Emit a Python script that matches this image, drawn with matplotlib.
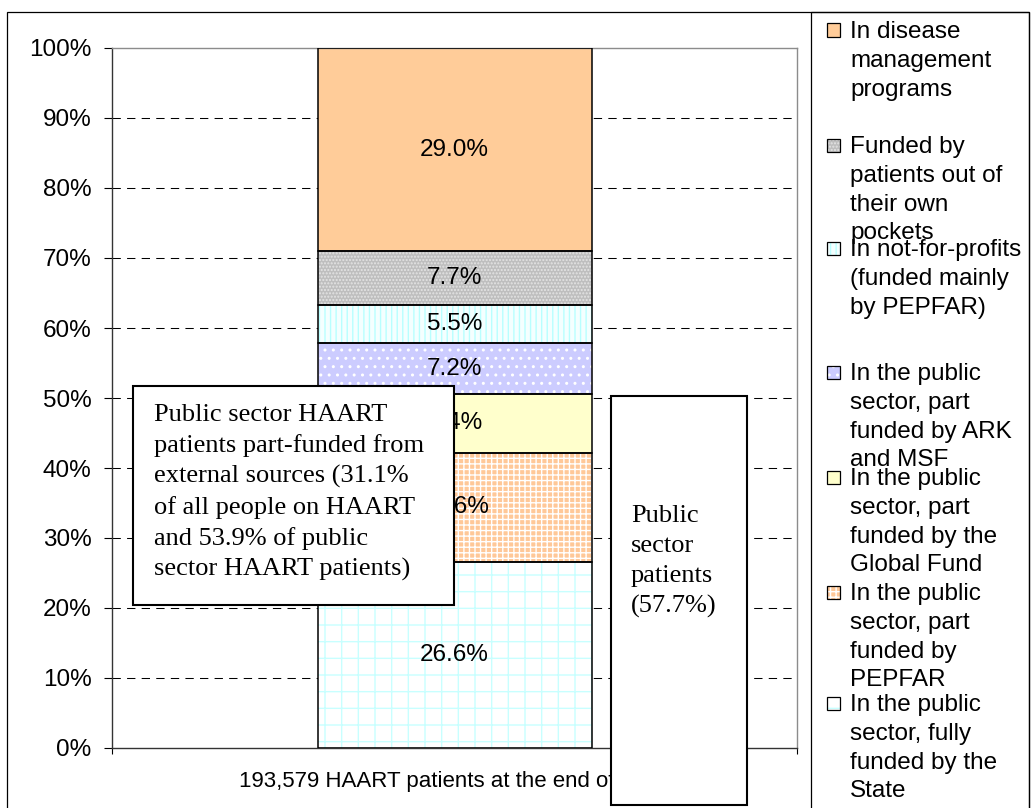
import matplotlib
matplotlib.use("Agg")
import matplotlib.pyplot as plt
from matplotlib.patches import Rectangle
from matplotlib.ticker import PercentFormatter

plt.rcParams['font.family'] = ['Liberation Sans', 'DejaVu Sans']
plt.rcParams['hatch.linewidth'] = 1.0

# ---------------- data ----------------
category = ["193,579 HAART patients at the end of 2006"]
series_names = [
    "In the public\nsector, fully\nfunded by the\nState",
    "In the public\nsector, part\nfunded by\nPEPFAR",
    "In the public\nsector, part\nfunded by the\nGlobal Fund",
    "In the public\nsector, part\nfunded by ARK\nand MSF",
    "In not-for-profits\n(funded mainly\nby PEPFAR)",
    "Funded by\npatients out of\ntheir own\npockets",
    "In disease\nmanagement\nprograms",
]
series_values = [26.6, 15.6, 8.4, 7.2, 5.5, 7.7, 29.0]
y_ticks = [0, 10, 20, 30, 40, 50, 60, 70, 80, 90, 100]
note_left = ("Public sector HAART\npatients part-funded from\nexternal sources (31.1%\n"
             "of all people on HAART\nand 53.9% of public\nsector HAART patients)")
note_right = "Public\nsector\npatients\n(57.7%)"

# ---------------- styles ----------------
face_colors = ['#FFFFFF', '#FFC898', '#FFFFCC', '#CCCCFF', '#F4FFFF', '#BEBEBE', '#FFCC99']
hatch_colors = ['#C8FFFF', '#FFFFFF', '#FFFFCC', '#FFFFFF', '#B8FFFF', '#E4E4E4', '#FFCC99']
hatches = ['+', '+++', None, '..', '|||', '.....', None]

W, H = 1032, 808
fig = plt.figure(figsize=(W / 100, H / 100), dpi=100)
fig.patch.set_facecolor('white')


def fx(px):
    return px / W


def fy(py):
    return 1 - py / H


ax = fig.add_axes([fx(112), fy(748), (797 - 112) / W, (748 - 48) / H])

FS = 17.5
bottom = 0.0
for v, fc, hc, hp in zip(series_values, face_colors, hatch_colors, hatches):
    ax.bar(0, v, width=0.4, bottom=bottom, color=fc, edgecolor=hc,
           linewidth=0, hatch=hp, zorder=2)
    ax.bar(0, v, width=0.4, bottom=bottom, fill=False, edgecolor='black',
           linewidth=1.1, zorder=3)
    ax.text(0, bottom + v / 2, f"{v:.1f}%", ha='center', va='center',
            fontsize=FS, color='black', zorder=4)
    bottom += v

ax.set_xlim(-0.5, 0.5)
ax.set_ylim(0, 100)
ax.set_yticks(y_ticks)
ax.yaxis.set_major_formatter(PercentFormatter(decimals=0))
ax.tick_params(axis='y', direction='out', length=5.8, width=0.8, pad=9,
               labelsize=FS, colors='black')
ax.set_xticks([0])
ax.set_xticklabels(category)
ax.tick_params(axis='x', which='major', length=0, pad=16.5, labelsize=16)
ax.set_xticks([-0.5, 0.5], minor=True)
ax.tick_params(axis='x', which='minor', length=4.5, width=0.8, direction='out')

ax.set_axisbelow(True)
ax.yaxis.grid(True, color='black', linestyle=(0, (8, 6)), linewidth=0.75)
ax.xaxis.grid(False)
mt = ax.yaxis.get_major_ticks()
mt[0].gridline.set_visible(False)
mt[-1].gridline.set_visible(False)

for s in ['left', 'bottom']:
    ax.spines[s].set_color('#333333')
    ax.spines[s].set_linewidth(1.0)
for s in ['top', 'right']:
    ax.spines[s].set_color('#8C8C8C')
    ax.spines[s].set_linewidth(1.0)

# outer chart border and legend frame
fig.add_artist(Rectangle((fx(7), -0.05), (1029 - 7) / W, fy(12) + 0.05,
                         transform=fig.transFigure, fill=False,
                         edgecolor='black', linewidth=0.9, zorder=1))
fig.add_artist(Rectangle((fx(811), -0.05), (1029 - 811) / W, fy(12) + 0.05,
                         transform=fig.transFigure, fill=False,
                         edgecolor='black', linewidth=0.9, zorder=1))

# legend (top to bottom = reverse of stacking order)
legend_y = [30, 145, 248, 372, 477, 592, 703]
order = list(range(len(series_names)))[::-1]
for y, idx in zip(legend_y, order):
    fig.add_artist(Rectangle((fx(827), fy(y + 6.5)), 13 / W, 13 / H,
                             transform=fig.transFigure,
                             facecolor=face_colors[idx], edgecolor=hatch_colors[idx],
                             linewidth=0, hatch=hatches[idx], zorder=2))
    fig.add_artist(Rectangle((fx(827), fy(y + 6.5)), 13 / W, 13 / H,
                             transform=fig.transFigure, fill=False,
                             edgecolor='black', linewidth=0.9, zorder=3))
    fig.text(fx(850), fy(y - 9), series_names[idx], ha='left', va='top',
             fontsize=FS, linespacing=1.4, color='black', zorder=3)

# annotation boxes
fig.add_artist(Rectangle((fx(133), fy(605)), (454 - 133) / W, (605 - 386) / H,
                         transform=fig.transFigure, facecolor='white',
                         edgecolor='black', linewidth=1.5, zorder=5))
fig.text(fx(154), fy(413 - 9.5), note_left, ha='left', va='top',
         family=['Liberation Serif', 'DejaVu Serif'], fontsize=19,
         linespacing=1.45, color='black', zorder=6)

fig.add_artist(Rectangle((fx(611), fy(805)), (747 - 611) / W, (805 - 396) / H,
                         transform=fig.transFigure, facecolor='white',
                         edgecolor='black', linewidth=1.5, zorder=5))
fig.text(fx(631), fy(515 - 9.5), note_right, ha='left', va='top',
         family=['Liberation Serif', 'DejaVu Serif'], fontsize=19,
         linespacing=1.45, color='black', zorder=6)

fig.savefig("out.png", dpi=100, facecolor='white')
